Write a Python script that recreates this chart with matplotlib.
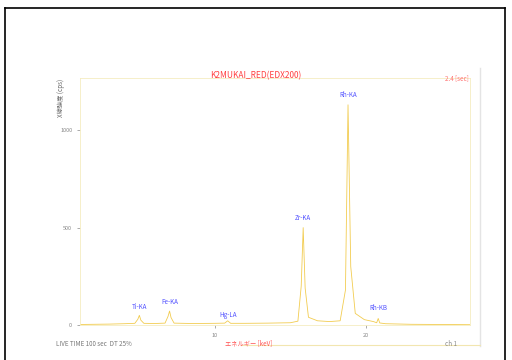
import numpy as np
import matplotlib.pyplot as plt
from matplotlib.lines import Line2D

plt.rcParams['font.family'] = ['Noto Sans CJK JP', 'DejaVu Sans']

# スペクトル (keV, cps) - 画像から読み取り
energy = [1.0, 2.0, 3.0, 4.0, 4.7, 4.9, 5.0, 5.1, 5.3, 6.0, 6.7, 6.9, 7.0, 7.1,
          7.3, 8.5, 10.0, 10.65, 10.85, 11.05, 12.0, 13.5, 15.0, 15.5, 15.72, 15.85,
          15.98, 16.2, 16.8, 17.6, 18.3, 18.65, 18.82, 19.0, 19.3, 19.9, 20.5, 20.72,
          20.82, 20.92, 21.3, 23.0, 25.0, 27.0]
counts = [3, 4, 5, 7, 9, 30, 50, 25, 9, 8, 10, 45, 72, 38, 10, 8, 9, 10, 22, 9,
          9, 10, 12, 20, 200, 500, 190, 40, 22, 18, 22, 180, 1130, 300, 60, 28, 18, 12,
          34, 11, 7, 4, 3, 2]

peak_names = ['Ti-KA', 'Fe-KA', 'Hg-LA', 'Zr-KA', 'Rh-KA', 'Rh-KB']
peak_keV = [5.0, 7.0, 10.85, 15.85, 18.82, 20.82]
peak_label_y = [55, 85, 18, 515, 1145, 50]

fig = plt.figure(figsize=(5.12, 3.6), dpi=100)
ax = fig.add_axes([0.156, 0.097, 0.762, 0.686])

ax.plot(energy, counts, color='#f2cc50', lw=0.6)
for name, x, y in zip(peak_names, peak_keV, peak_label_y):
    ax.text(x, y + 15, name, color='#5050ff', fontsize=4.5, ha='center', va='bottom')

ax.set_xlim(1.06, 26.9)
ax.set_ylim(0, 1267)
ax.set_xticks([10, 20])
ax.set_yticks([0, 500, 1000])
ax.tick_params(labelsize=4, colors='#888888', length=2, width=0.5)
for s in ax.spines.values():
    s.set_color('#f5ecc0')
    s.set_linewidth(0.6)

fig.text(0.5, 0.789, 'K2MUKAI_RED(EDX200)', color='#ff4040', fontsize=6,
         ha='center', va='center')
fig.text(0.915, 0.783, '2.4 [sec]', color='#ff7070', fontsize=4.5, ha='right', va='center')
fig.text(0.12, 0.78, 'X線強度 (cps)', color='#666666', fontsize=4.5, rotation=90,
         ha='center', va='top')
fig.text(0.11, 0.045, 'LIVE TIME 100 sec  DT 25%', color='#777777', fontsize=4.5,
         ha='left', va='center')
fig.text(0.44, 0.045, 'エネルギー [keV]', color='#ff5050', fontsize=4.5, ha='left', va='center')
fig.text(0.87, 0.045, 'ch 1', color='#888888', fontsize=4.5, ha='left', va='center')

# 外枠
fig.add_artist(Line2D([0.01, 0.986], [0.978, 0.978], color='black', lw=1.2))
fig.add_artist(Line2D([0.01, 0.01], [0.0, 0.978], color='black', lw=1.2))
fig.add_artist(Line2D([0.986, 0.986], [0.0, 0.978], color='black', lw=1.2))
fig.add_artist(Line2D([0.938, 0.938], [0.04, 0.81], color='#e4e4e4', lw=1.0))
fig.add_artist(Line2D([0.47, 0.938], [0.042, 0.042], color='#f2e6b0', lw=0.8))

fig.savefig('out.png', dpi=100)
